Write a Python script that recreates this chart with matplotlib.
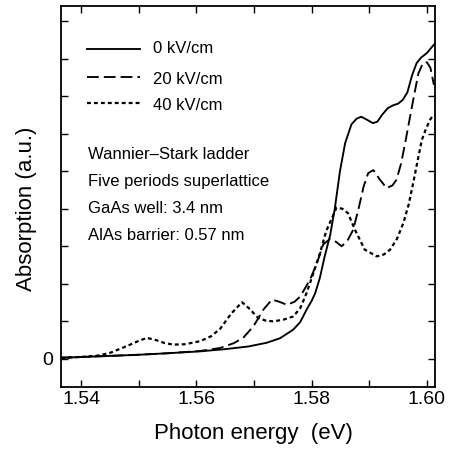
import matplotlib
matplotlib.use("Agg")
import matplotlib.pyplot as plt

plt.rcParams['font.family'] = ['Liberation Sans', 'DejaVu Sans']
plt.rcParams['lines.scale_dashes'] = False

# Photon energy (eV) and absorption (a.u.) for each applied field
energy_0kv = [1.5365, 1.5400, 1.5450, 1.5500, 1.5550, 1.5606, 1.5650, 1.5690, 1.5722,
              1.5745, 1.5768, 1.5780, 1.5791, 1.5800, 1.5806, 1.5814, 1.5822, 1.5832,
              1.5840, 1.5849, 1.5858, 1.5869, 1.5878, 1.5886, 1.5896, 1.5906, 1.5914,
              1.5922, 1.5932, 1.5942, 1.5950, 1.5958, 1.5966, 1.5974, 1.5982, 1.5990,
              1.6000, 1.6008, 1.6014]
absorb_0kv = [0.03, 0.05, 0.08, 0.11, 0.15, 0.20, 0.26, 0.33, 0.43,
              0.55, 0.78, 0.98, 1.31, 1.55, 1.75, 2.15, 2.70, 3.30,
              4.00, 5.00, 5.75, 6.25, 6.40, 6.45, 6.37, 6.28, 6.32,
              6.50, 6.68, 6.76, 6.80, 6.90, 7.10, 7.55, 7.88, 8.03,
              8.15, 8.30, 8.40]

energy_20kv = [1.5365, 1.5400, 1.5450, 1.5500, 1.5550, 1.5606, 1.5641, 1.5665, 1.5681,
               1.5699, 1.5716, 1.5731, 1.5744, 1.5757, 1.5770, 1.5780, 1.5797, 1.5809,
               1.5820, 1.5832, 1.5842, 1.5852, 1.5862, 1.5872, 1.5882, 1.5890, 1.5898,
               1.5907, 1.5918, 1.5930, 1.5940, 1.5947, 1.5955, 1.5962, 1.5970, 1.5978,
               1.5985, 1.5993, 1.6000, 1.6006, 1.6012]
absorb_20kv = [0.03, 0.05, 0.08, 0.11, 0.15, 0.21, 0.29, 0.42, 0.56,
               0.87, 1.31, 1.58, 1.52, 1.44, 1.52, 1.66, 2.11, 2.55,
               3.05, 3.20, 3.12, 3.00, 3.15, 3.44, 4.05, 4.59, 4.95,
               5.03, 4.78, 4.55, 4.62, 4.77, 5.20, 5.74, 6.40, 7.05,
               7.60, 7.88, 7.90, 7.75, 7.30]

energy_40kv = [1.5365, 1.5400, 1.5430, 1.5450, 1.5479, 1.5500, 1.5514, 1.5530, 1.5545,
               1.5560, 1.5580, 1.5606, 1.5625, 1.5641, 1.5660, 1.5679, 1.5693, 1.5707,
               1.5720, 1.5733, 1.5750, 1.5768, 1.5780, 1.5791, 1.5803, 1.5815, 1.5825,
               1.5835, 1.5843, 1.5853, 1.5863, 1.5875, 1.5892, 1.5913, 1.5925, 1.5936,
               1.5948, 1.5959, 1.5968, 1.5976, 1.5984, 1.5991, 1.5998, 1.6005, 1.6011]
absorb_40kv = [0.03, 0.05, 0.09, 0.16, 0.34, 0.48, 0.56, 0.50, 0.42,
               0.38, 0.39, 0.47, 0.60, 0.80, 1.20, 1.51, 1.32, 1.09,
               1.02, 1.00, 1.04, 1.13, 1.35, 1.75, 2.29, 2.85, 3.40,
               3.75, 4.03, 4.00, 3.88, 3.44, 2.91, 2.73, 2.78, 2.91,
               3.20, 3.62, 4.10, 4.68, 5.30, 5.83, 6.12, 6.36, 6.50]

field_labels = ['0 kV/cm', '20 kV/cm', '40 kV/cm']
notes = ['Wannier\u2013Stark ladder', 'Five periods superlattice',
         'GaAs well: 3.4 nm', 'AlAs barrier: 0.57 nm']

x_ticks = [1.54, 1.55, 1.56, 1.57, 1.58, 1.59, 1.60]
x_tick_labels = ['1.54', '', '1.56', '', '1.58', '', '1.60']
y_ticks = [0, 1, 2, 3, 4, 5, 6, 7, 8, 9]
y_tick_labels = ['0', '', '', '', '', '', '', '', '', '']

styles = [dict(linestyle='-', lw=1.35),
          dict(linestyle=(0, (8.5, 3.6)), lw=1.35),
          dict(linestyle=(0, (2.8, 2.2)), lw=1.6)]

fig = plt.figure(figsize=(4.57, 4.49), dpi=100)
ax = fig.add_axes([0.1335, 0.138, 0.8185, 0.8486])

series = [(energy_0kv, absorb_0kv), (energy_20kv, absorb_20kv), (energy_40kv, absorb_40kv)]
for (e, a), st in zip(series, styles):
    ax.plot(e, a, color='black', **st)

ax.set_xlim(1.5365, 1.6014)
ax.set_ylim(-0.75, 9.4)
ax.set_xticks(x_ticks)
ax.set_xticklabels(x_tick_labels)
ax.set_yticks(y_ticks)
ax.set_yticklabels(y_tick_labels)
ax.tick_params(axis='both', direction='in', length=5, width=1.0,
               top=True, right=True, labelsize=14)
ax.tick_params(axis='x', pad=3)
ax.tick_params(axis='y', pad=6)
for sp in ax.spines.values():
    sp.set_linewidth(1.3)

ax.set_xlabel('Photon energy  (eV)', fontsize=16)
ax.set_ylabel('Absorption (a.u.)', fontsize=16)
ax.xaxis.set_label_coords(0.515, -0.095)
ax.yaxis.set_label_coords(-0.063, 0.467)

# Legend drawn as short sample lines with labels
legend_rows = [0.888, 0.815, 0.745]
text_rows = [0.888, 0.808, 0.738]
for (lab, st, yl, yt) in zip(field_labels, styles, legend_rows, text_rows):
    ax.plot([0.07, 0.21], [yl, yl], transform=ax.transAxes, color='black', **st)
    ax.text(0.246, yt, lab, transform=ax.transAxes, fontsize=12,
            ha='left', va='center')

for i, note in enumerate(notes):
    ax.text(0.073, 0.611 - i * 0.071, note, transform=ax.transAxes,
            fontsize=12, ha='left', va='center')

fig.savefig('out.png', dpi=100)
